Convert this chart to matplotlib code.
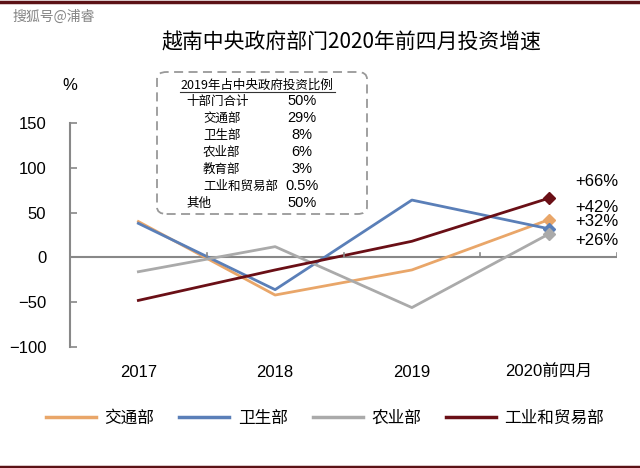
import matplotlib.pyplot as plt
from matplotlib.patches import FancyBboxPatch
from matplotlib.lines import Line2D

plt.rcParams['font.family'] = ['Liberation Sans', 'Noto Sans CJK SC', 'DejaVu Sans']

years = ["2017", "2018", "2019", "2020前四月"]
series = ["交通部", "卫生部", "农业部", "工业和贸易部"]
jiaotong = [40, -42, -14, 42]
weisheng = [38, -36, 64, 32]
nongye = [-16, 12, -56, 26]
gongye = [-48, -14, 18, 66]
colors = ["#E9A669", "#5A7FB8", "#AAAAAA", "#6A0F16"]
end_labels = ["+66%", "+42%", "+32%", "+26%"]

share_items = ["十部门合计", "交通部", "卫生部", "农业部", "教育部", "工业和贸易部", "其他"]
share_values = ["50%", "29%", "8%", "6%", "3%", "0.5%", "50%"]

cjk = ['Noto Sans CJK SC', 'DejaVu Sans']

fig = plt.figure(figsize=(6.4, 4.68), dpi=100)
ax = fig.add_axes([70 / 640, 1 - 347 / 468, 547 / 640, 224 / 468])

x = range(len(years))
for vals, name, c in zip([jiaotong, weisheng, nongye, gongye], series, colors):
    ax.plot(x, vals, color=c, lw=2.0, label=name)
    ax.plot([x[-1]], [vals[-1]], marker='D', color=c, ms=6)

ax.axhline(0, color='#888888', lw=1.5, zorder=0)
for b in [0.5, 1.5, 2.5, 3.5]:
    ax.plot([b, b], [0, 5], color='#888888', lw=1.2)

ax.set_xlim(-0.5, 3.5)
ax.set_ylim(-100, 150)
ax.set_yticks([-100, -50, 0, 50, 100, 150])
ax.set_xticks(list(x))
ax.set_xticklabels(years, fontsize=12, family=['Liberation Sans', 'Noto Sans CJK SC'])
ax.tick_params(axis='x', length=0, pad=13)
ax.tick_params(axis='y', direction='in', length=5, color='#888888', width=1.2,
               labelsize=12, pad=17)
for s in ['top', 'right', 'bottom']:
    ax.spines[s].set_visible(False)
ax.spines['left'].set_color('#888888')
ax.spines['left'].set_linewidth(1.5)

# end labels
label_y = [181, 208, 222, 241]
for t, yy in zip(end_labels, label_y):
    fig.text(597 / 640, 1 - yy / 468, t, fontsize=12, ha='center', va='center')

fig.text(70 / 640, 1 - 86 / 468, "%", fontsize=12, ha='center', va='center')

fig.text(351 / 640, 1 - 43 / 468, "越南中央政府部门2020年前四月投资增速", fontsize=15,
         ha='center', va='center', family=cjk)

# dashed box with 2019 shares
box = FancyBboxPatch((157 / 640, 1 - 214 / 468), 210 / 640, 142 / 468,
                     boxstyle="round,pad=0,rounding_size=0.015", transform=fig.transFigure,
                     fill=False, edgecolor='#999999', lw=1.3, linestyle=(0, (5, 3)))
fig.patches.append(box)
fig.text(257 / 640, 1 - 85 / 468, "2019年占中央政府投资比例", fontsize=9, ha='center',
         va='center', family=cjk)
fig.add_artist(Line2D([180 / 640, 335 / 640], [1 - 92 / 468, 1 - 92 / 468], color='#333333', lw=0.8))
row_y = [101, 118, 135, 152, 169, 186, 203]
for i, (name, v) in enumerate(zip(share_items, share_values)):
    xx = 203 if 0 < i < 6 else 186
    fig.text(xx / 640, 1 - row_y[i] / 468, name, fontsize=9, ha='left', va='center', family=cjk)
    fig.text(302 / 640, 1 - row_y[i] / 468, v, fontsize=10.5, ha='center', va='center')

leg = fig.legend(loc='center', bbox_to_anchor=(0.508, 1 - 418 / 468), ncol=4, frameon=False,
                 prop={'family': cjk, 'size': 12}, handlelength=3.0, columnspacing=1.5,
                 handletextpad=0.5)
for h in leg.get_lines():
    h.set_linewidth(2.5)

# watermark and frame bars
fig.text(12 / 640, 1 - 17 / 468, "搜狐号@浦睿", fontsize=10, ha='left', va='center',
         color='#666666', family=cjk, alpha=0.8)
fig.add_artist(Line2D([0, 1], [1 - 1.5 / 468] * 2, color='#5C1216', lw=2.5))
fig.add_artist(Line2D([0, 1], [1.5 / 468] * 2, color='#5C1216', lw=2.5))

fig.savefig("out.png", dpi=100)
